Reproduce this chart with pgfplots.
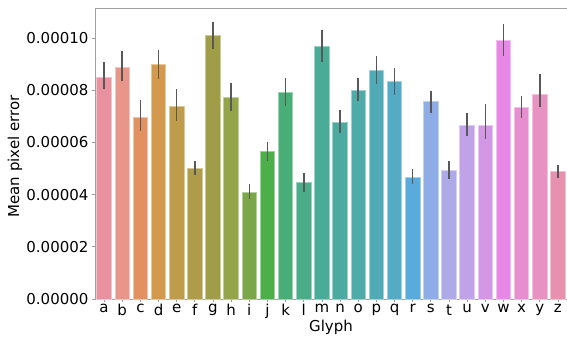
\documentclass[border=0pt]{standalone}
\usepackage{pgfplots}
\pgfplotsset{compat=1.18}
\usepackage{fontspec}
\setmainfont{DejaVu Sans}
\definecolor{errc}{RGB}{88,88,88}
\definecolor{spc}{RGB}{160,160,160}
\definecolor{ca}{HTML}{E8919F}
\definecolor{cb}{HTML}{E8968A}
\definecolor{cc}{HTML}{E29160}
\definecolor{cd}{HTML}{D39A4D}
\definecolor{ce}{HTML}{BF9B4C}
\definecolor{cf}{HTML}{AE9C4A}
\definecolor{cg}{HTML}{A09D48}
\definecolor{ch}{HTML}{93A548}
\definecolor{ci}{HTML}{7BA64A}
\definecolor{cj}{HTML}{4DAF4A}
\definecolor{ck}{HTML}{49AD77}
\definecolor{cl}{HTML}{4AAC88}
\definecolor{cm}{HTML}{4AAC97}
\definecolor{cn}{HTML}{4BABA0}
\definecolor{co}{HTML}{4DABAA}
\definecolor{cp}{HTML}{51ABB6}
\definecolor{cq}{HTML}{55AAC6}
\definecolor{cr}{HTML}{5AAADB}
\definecolor{cs}{HTML}{8EADE6}
\definecolor{ct}{HTML}{AEAAE8}
\definecolor{cu}{HTML}{C1A2E8}
\definecolor{cv}{HTML}{D397E6}
\definecolor{cw}{HTML}{E787E6}
\definecolor{cx}{HTML}{E68ECF}
\definecolor{cy}{HTML}{E792C0}
\definecolor{cz}{HTML}{E791AE}
\begin{document}
\begin{tikzpicture}
\begin{axis}[
  name=ax,
  scale only axis, width=472pt, height=291pt,
  xmin=-0.5, xmax=25.5, ymin=0, ymax=0.0001115,
  axis x line*=bottom, axis y line*=left,
  axis line style={-, spc, line width=0.8pt},
  xtick={0,...,25},
  xticklabels={a,b,c,d,e,f,g,h,i,j,k,l,m,n,o,p,q,r,s,t,u,v,w,x,y,z},
  ytick={0,0.00002,0.00004,0.00006,0.00008,0.0001},
  scaled y ticks=false,
  yticklabel style={/pgf/number format/.cd, fixed, fixed zerofill, precision=5, assume math mode=true},
  tick align=outside, major tick length=3pt,
  tick style={spc, line width=0.8pt},
  ticklabel style={font=\fontsize{15}{18}\selectfont, text=black},
  xticklabel style={yshift=1pt},
  every axis x label/.style={at={(axis description cs:0.5,0)}, anchor=center, yshift=-28pt, font=\fontsize{15}{18}\selectfont},
  every axis y label/.style={at={(axis description cs:0,0.5)}, anchor=center, rotate=90, yshift=80pt, xshift=-3pt, font=\fontsize{15}{18}\selectfont},
  xlabel={Glyph}, ylabel={Mean pixel error},
  ybar, bar width=0.8, bar shift=0pt,
  error bars/y dir=both, error bars/y explicit,
  error bars/error mark=none,
  error bars/error bar style={errc, line width=1.5pt},
  clip=false,
]
\addplot[fill=ca, draw=ca!55!white, line width=0.8pt] coordinates {(0,8.49e-5) += (0,0.58e-5) -= (0,0.46e-5)};
\addplot[fill=cb, draw=cb!55!white, line width=0.8pt] coordinates {(1,8.88e-5) += (0,0.61e-5) -= (0,0.53e-5)};
\addplot[fill=cc, draw=cc!55!white, line width=0.8pt] coordinates {(2,6.96e-5) += (0,0.66e-5) -= (0,0.51e-5)};
\addplot[fill=cd, draw=cd!55!white, line width=0.8pt] coordinates {(3,8.98e-5) += (0,0.56e-5) -= (0,0.54e-5)};
\addplot[fill=ce, draw=ce!55!white, line width=0.8pt] coordinates {(4,7.37e-5) += (0,0.66e-5) -= (0,0.54e-5)};
\addplot[fill=cf, draw=cf!55!white, line width=0.8pt] coordinates {(5,5.02e-5) += (0,0.28e-5) -= (0,0.26e-5)};
\addplot[fill=cg, draw=cg!55!white, line width=0.8pt] coordinates {(6,10.11e-5) += (0,0.51e-5) -= (0,0.53e-5)};
\addplot[fill=ch, draw=ch!55!white, line width=0.8pt] coordinates {(7,7.71e-5) += (0,0.57e-5) -= (0,0.50e-5)};
\addplot[fill=ci, draw=ci!55!white, line width=0.8pt] coordinates {(8,4.10e-5) += (0,0.31e-5) -= (0,0.28e-5)};
\addplot[fill=cj, draw=cj!55!white, line width=0.8pt] coordinates {(9,5.64e-5) += (0,0.39e-5) -= (0,0.35e-5)};
\addplot[fill=ck, draw=ck!55!white, line width=0.8pt] coordinates {(10,7.90e-5) += (0,0.57e-5) -= (0,0.49e-5)};
\addplot[fill=cl, draw=cl!55!white, line width=0.8pt] coordinates {(11,4.46e-5) += (0,0.36e-5) -= (0,0.37e-5)};
\addplot[fill=cm, draw=cm!55!white, line width=0.8pt] coordinates {(12,9.68e-5) += (0,0.61e-5) -= (0,0.60e-5)};
\addplot[fill=cn, draw=cn!55!white, line width=0.8pt] coordinates {(13,6.77e-5) += (0,0.46e-5) -= (0,0.40e-5)};
\addplot[fill=co, draw=co!55!white, line width=0.8pt] coordinates {(14,8.00e-5) += (0,0.46e-5) -= (0,0.40e-5)};
\addplot[fill=cp, draw=cp!55!white, line width=0.8pt] coordinates {(15,8.76e-5) += (0,0.56e-5) -= (0,0.51e-5)};
\addplot[fill=cq, draw=cq!55!white, line width=0.8pt] coordinates {(16,8.33e-5) += (0,0.51e-5) -= (0,0.51e-5)};
\addplot[fill=cr, draw=cr!55!white, line width=0.8pt] coordinates {(17,4.67e-5) += (0,0.31e-5) -= (0,0.28e-5)};
\addplot[fill=cs, draw=cs!55!white, line width=0.8pt] coordinates {(18,7.57e-5) += (0,0.40e-5) -= (0,0.43e-5)};
\addplot[fill=ct, draw=ct!55!white, line width=0.8pt] coordinates {(19,4.93e-5) += (0,0.35e-5) -= (0,0.33e-5)};
\addplot[fill=cu, draw=cu!55!white, line width=0.8pt] coordinates {(20,6.65e-5) += (0,0.46e-5) -= (0,0.40e-5)};
\addplot[fill=cv, draw=cv!55!white, line width=0.8pt] coordinates {(21,6.65e-5) += (0,0.81e-5) -= (0,0.52e-5)};
\addplot[fill=cw, draw=cw!55!white, line width=0.8pt] coordinates {(22,9.89e-5) += (0,0.63e-5) -= (0,0.57e-5)};
\addplot[fill=cx, draw=cx!55!white, line width=0.8pt] coordinates {(23,7.33e-5) += (0,0.44e-5) -= (0,0.41e-5)};
\addplot[fill=cy, draw=cy!55!white, line width=0.8pt] coordinates {(24,7.85e-5) += (0,0.76e-5) -= (0,0.51e-5)};
\addplot[fill=cz, draw=cz!55!white, line width=0.8pt] coordinates {(25,4.87e-5) += (0,0.25e-5) -= (0,0.23e-5)};
\draw[spc, line width=0.8pt] (rel axis cs:0,1) -- (rel axis cs:1,1);
\end{axis}
\pgfresetboundingbox
\path ([shift={(-95pt,-38pt)}]ax.south west) rectangle ([shift={(0pt,8pt)}]ax.north east);
\end{tikzpicture}
\end{document}
